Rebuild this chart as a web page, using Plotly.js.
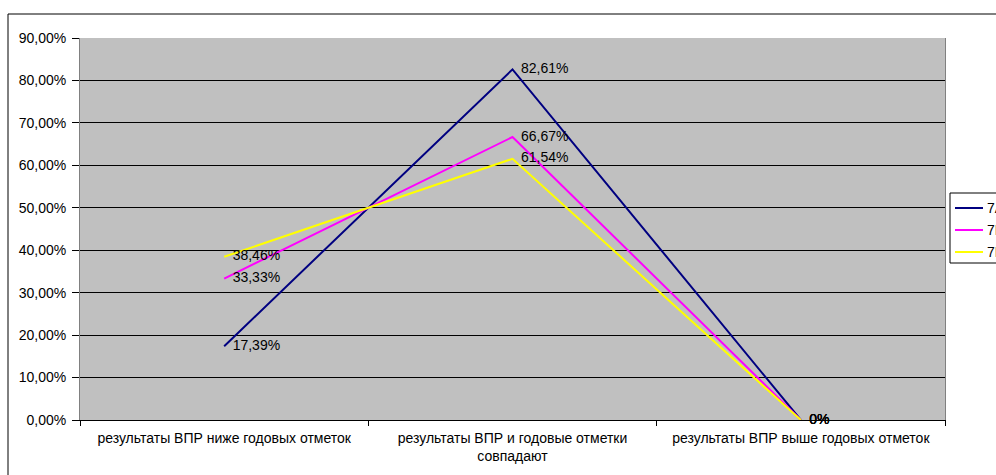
<!DOCTYPE html>
<html><head><meta charset="utf-8">
<script src="https://cdn.plot.ly/plotly-3.0.1.min.js"></script>
<style>html,body{margin:0;padding:0;background:#fff;overflow:hidden;}#chart{width:996px;height:475px;}</style>
</head><body><div id="chart"></div>
<script>
var categories = ["результаты ВПР ниже годовых отметок", "результаты ВПР и годовые отметки<br>совпадают", "результаты ВПР выше годовых отметок"];
var seriesNames = ["7А", "7Б", "7В"];
var values7A = [0.1739, 0.8261, 0];
var values7B = [0.3333, 0.6667, 0];
var values7V = [0.3846, 0.6154, 0];
var labels7A = ["17,39%", "82,61%", "0%"];
var labels7B = ["33,33%", "66,67%", "0%"];
var labels7V = ["38,46%", "61,54%", "0%"];
var yTickVals = [0, 0.1, 0.2, 0.3, 0.4, 0.5, 0.6, 0.7, 0.8, 0.9];
var yTickText = ["0,00%", "10,00%", "20,00%", "30,00%", "40,00%", "50,00%", "60,00%", "70,00%", "80,00%", "90,00%"];
var colors = ["#000080", "#FF00FF", "#FFFF00"];

var FONT = "Liberation Sans, Arial, sans-serif";
function mk(name, y, labels, color) {
  return {
    type: "scatter", mode: "lines+markers+text", name: name,
    x: categories, y: y, text: labels,
    textposition: "middle right",
    textfont: {family: FONT, size: 14, color: "#000"},
    line: {color: color, width: 2},
    marker: {size: 12, color: "rgba(0,0,0,0)"},
    cliponaxis: false, showlegend: false
  };
}
var data = [
  mk(seriesNames[0], values7A, labels7A, colors[0]),
  mk(seriesNames[1], values7B, labels7B, colors[1]),
  mk(seriesNames[2], values7V, labels7V, colors[2])
];

// plot area: x 80..945 px, y 38..420 px
var W = 865, H = 382;
function px(x) { return (x - 80) / W; }
function py(y) { return (420 - y) / H; }

var shapes = [
  {type: "rect", xref: "paper", yref: "paper", x0: px(8), x1: px(1010), y0: py(500), y1: py(14),
    line: {color: "#000", width: 1}, fillcolor: "rgba(0,0,0,0)", layer: "below"},
  {type: "rect", xref: "paper", yref: "paper", x0: px(950), x1: px(1020), y0: py(263), y1: py(193),
    line: {color: "#000", width: 1}, fillcolor: "#fff", layer: "above"}
];
var annotations = [];
var legendY = [208, 230, 252];
for (var i = 0; i < seriesNames.length; i++) {
  shapes.push({type: "line", xref: "paper", yref: "paper", x0: px(955), x1: px(983),
    y0: py(legendY[i]), y1: py(legendY[i]), line: {color: colors[i], width: 2}});
  annotations.push({xref: "paper", yref: "paper", x: px(985), y: py(legendY[i]), xanchor: "left", yanchor: "middle",
    text: seriesNames[i], showarrow: false, font: {family: FONT, size: 14, color: "#000"}});
}

var layout = {
  width: 996, height: 475,
  margin: {l: 80, r: 51, t: 38, b: 55},
  paper_bgcolor: "#fff", plot_bgcolor: "#C0C0C0",
  font: {family: FONT, size: 14, color: "#000"},
  showlegend: false,
  xaxis: {type: "category", tickson: "boundaries", ticks: "outside", ticklen: 5, tickcolor: "#000",
    showgrid: false, showline: true, linecolor: "#000", linewidth: 1, mirror: false,
    tickfont: {size: 14}, ticklabelstandoff: 5, range: [-0.5, 2.5], fixedrange: true},
  yaxis: {range: [0, 0.9], tickvals: yTickVals, ticktext: yTickText, ticks: "outside", ticklen: 7,
    tickcolor: "#000", showgrid: true, gridcolor: "#000", gridwidth: 1, zeroline: false,
    showline: true, linecolor: "#808080", mirror: true, tickfont: {size: 14}, ticklabelstandoff: 3,
    fixedrange: true},
  shapes: shapes,
  annotations: annotations
};
Plotly.newPlot("chart", data, layout, {displayModeBar: false, staticPlot: true});
</script></body></html>
